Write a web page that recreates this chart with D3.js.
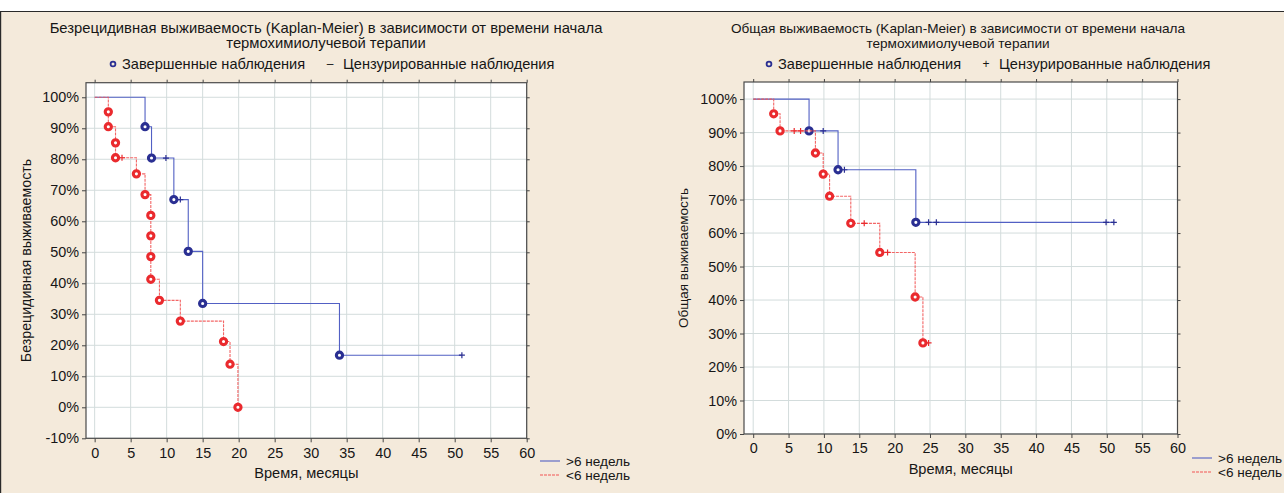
<!DOCTYPE html>
<html>
<head>
<meta charset="utf-8">
<script src="https://cdn.jsdelivr.net/npm/d3@7/dist/d3.min.js"></script>
<style>
  html, body { margin: 0; padding: 0; background: #ffffff; }
  svg { display: block; }
  text { font-family: "Liberation Sans", Arial, sans-serif; fill: #161616; }
</style>
</head>
<body>
<svg id="chart" width="1284" height="493"></svg>
<script>
// ---- Data: Kaplan-Meier step curves (time in months, survival as fraction) ----
const xTicks = [0, 5, 10, 15, 20, 25, 30, 35, 40, 45, 50, 55, 60];
const rfsTicks = [-0.1, 0, 0.1, 0.2, 0.3, 0.4, 0.5, 0.6, 0.7, 0.8, 0.9, 1.0];
const osTicks = [0, 0.1, 0.2, 0.3, 0.4, 0.5, 0.6, 0.7, 0.8, 0.9, 1.0];

const groupLabels = [">6 недель", "<6 недель"];

// Relapse-free survival, start of therapy > 6 weeks
const rfsLateTimes = [7, 7.9, 11, 13, 15, 34];
const rfsLateSurv = [0.905, 0.804, 0.67, 0.503, 0.335, 0.168];
const rfsLateCensored = [9.9, 11.9, 51];

// Relapse-free survival, start of therapy < 6 weeks
const rfsEarlyTimes = [1.9, 1.9, 2.9, 2.9, 5.8, 7, 7.8, 7.8, 7.8, 7.8, 9, 11.9, 17.9, 18.8, 19.9];
const rfsEarlySurv = [0.953, 0.905, 0.853, 0.805, 0.753, 0.686, 0.619, 0.553, 0.486, 0.413, 0.345, 0.278, 0.212, 0.139, 0.0];
const rfsEarlyCensored = [3.8];

// Overall survival, start of therapy > 6 weeks
const osLateTimes = [7.9, 12, 23];
const osLateSurv = [0.905, 0.789, 0.632];
const osLateCensored = [9.9, 12.9, 24.8, 25.9, 49.9, 51];

// Overall survival, start of therapy < 6 weeks
const osEarlyTimes = [2.9, 3.8, 8.8, 9.9, 10.8, 13.8, 17.9, 22.9, 24.0];
const osEarlySurv = [0.956, 0.905, 0.839, 0.776, 0.710, 0.629, 0.542, 0.409, 0.272];
const osEarlyCensored = [5.8, 6.7, 15.7, 19.0, 24.8];

// ---- Drawing ----
const svg = d3.select("#chart");
const BLUE_LINE = "#5260c4";
const BLUE_MARK = "#2a2f92";
const RED_LINE = "#f25555";
const RED_MARK = "#ea2a2e";
const FS = 14.6;

// panel background and frame
svg.append("rect").attr("x", 0).attr("y", 11.5).attr("width", 1284).attr("height", 482)
  .attr("fill", "#f4eadb");
svg.append("line").attr("x1", 0).attr("x2", 1284).attr("y1", 11.5).attr("y2", 11.5)
  .attr("stroke", "#2a2a2a").attr("stroke-width", 1.2);
svg.append("line").attr("x1", 0.6).attr("x2", 0.6).attr("y1", 11.5).attr("y2", 493)
  .attr("stroke", "#2a2a2a").attr("stroke-width", 1.2);

function stepCurve(times, surv, censored) {
  const pts = [[0, 1]];
  let prev = 1;
  times.forEach((t, i) => { pts.push([t, prev]); pts.push([t, surv[i]]); prev = surv[i]; });
  const end = Math.max(times[times.length - 1], ...censored);
  pts.push([end, prev]);
  return pts;
}
function survAt(times, surv, t) {
  let s = 1;
  times.forEach((tt, i) => { if (tt <= t) s = surv[i]; });
  return s;
}

function drawPanel(cfg) {
  const g = svg.append("g");
  const x = d3.scaleLinear().domain(cfg.xDomain).range([cfg.left, cfg.right]);
  const y = d3.scaleLinear().domain(cfg.yDomain).range([cfg.bottom, cfg.top]);

  // plot area
  g.append("rect").attr("x", cfg.left).attr("y", cfg.top)
    .attr("width", cfg.right - cfg.left).attr("height", cfg.bottom - cfg.top)
    .attr("fill", "#ffffff");

  // grid
  g.append("g").selectAll("line").data(xTicks).join("line")
    .attr("x1", d => x(d)).attr("x2", d => x(d)).attr("y1", cfg.top).attr("y2", cfg.bottom)
    .attr("stroke", "#d3dcdc").attr("stroke-width", 1);
  g.append("g").selectAll("line").data(cfg.yTicks).join("line")
    .attr("x1", cfg.left).attr("x2", cfg.right).attr("y1", d => y(d)).attr("y2", d => y(d))
    .attr("stroke", "#d3dcdc").attr("stroke-width", 1);

  // axes
  const fmt = d => Math.round(d * 100) + "%";
  const ax = g.append("g").attr("transform", `translate(0,${cfg.bottom})`)
    .call(d3.axisBottom(x).tickValues(xTicks).tickSize(4).tickPadding(5).tickFormat(d3.format("d")));
  const ay = g.append("g").attr("transform", `translate(${cfg.left},0)`)
    .call(d3.axisLeft(y).tickValues(cfg.yTicks).tickSize(4).tickPadding(3).tickFormat(fmt));
  const at = g.append("g").attr("transform", `translate(0,${cfg.top})`)
    .call(d3.axisTop(x).tickValues(xTicks).tickSize(3).tickFormat(""));
  const ar = g.append("g").attr("transform", `translate(${cfg.right},0)`)
    .call(d3.axisRight(y).tickValues(cfg.yTicks).tickSize(3).tickFormat(""));
  [ax, ay, at, ar].forEach(a => {
    a.select(".domain").remove();
    a.selectAll("line").attr("stroke", "#444");
    a.selectAll("text").attr("font-size", 14.4).attr("fill", "#161616")
      .attr("font-family", "'Liberation Sans', Arial, sans-serif");
  });
  g.append("rect").attr("x", cfg.left).attr("y", cfg.top)
    .attr("width", cfg.right - cfg.left).attr("height", cfg.bottom - cfg.top)
    .attr("fill", "none").attr("stroke", "#4a4a4a").attr("stroke-width", 1.2);

  // axis titles
  g.append("text").attr("x", (cfg.left + cfg.right) / 2).attr("y", cfg.xTitleY)
    .attr("text-anchor", "middle").attr("font-size", FS).text("Время, месяцы");
  g.append("text").attr("transform", `translate(${cfg.yTitleX},${(cfg.top + cfg.bottom) / 2}) rotate(-90)`)
    .attr("text-anchor", "middle").attr("font-size", cfg.yTitleSize).text(cfg.yTitle);

  // chart title
  cfg.title.forEach((line, i) => {
    g.append("text").attr("x", cfg.titleX).attr("y", 33 + i * 15)
      .attr("text-anchor", "middle").attr("font-size", cfg.titleSize).text(line);
  });

  // top legend: event / censored markers
  const ly = 64;
  g.append("circle").attr("cx", cfg.legendX).attr("cy", ly).attr("r", 2.4)
    .attr("fill", "none").attr("stroke", BLUE_MARK).attr("stroke-width", 1.8);
  g.append("text").attr("x", cfg.legendX + 9).attr("y", ly + 5).attr("font-size", FS)
    .text("Завершенные наблюдения");
  g.append("text").attr("x", cfg.legendX + cfg.censorGap).attr("y", ly + 4).attr("font-size", 12)
    .attr("fill", BLUE_LINE).attr("text-anchor", "middle").text(cfg.censorGlyph);
  g.append("text").attr("x", cfg.legendX + cfg.censorGap + 13).attr("y", ly + 5).attr("font-size", FS)
    .text("Цензурированные наблюдения");

  // curves
  const line = d3.line().x(d => x(d[0])).y(d => y(d[1]));
  cfg.series.forEach(s => {
    const pts = stepCurve(s.times, s.surv, s.censored);
    g.append("path").attr("d", line(pts)).attr("fill", "none")
      .attr("stroke", s.lineColor).attr("stroke-width", s.width)
      .attr("stroke-dasharray", s.dash).attr("opacity", s.opacity);
    // censored ticks
    g.append("g").selectAll("path").data(s.censored).join("path")
      .attr("d", t => {
        const cx = x(t), cy = y(survAt(s.times, s.surv, t));
        return `M${cx - 3},${cy}H${cx + 3}M${cx},${cy - 3}V${cy + 3}`;
      })
      .attr("stroke", s.markColor).attr("stroke-width", 1.2).attr("fill", "none");
    // events
    g.append("g").selectAll("circle").data(s.times.map((t, i) => [t, s.surv[i]])).join("circle")
      .attr("cx", d => x(d[0])).attr("cy", d => y(d[1])).attr("r", 3.1)
      .attr("fill", "#ffffff").attr("stroke", s.markColor).attr("stroke-width", 3.1);
  });

  // bottom legend: groups
  groupLabels.forEach((lab, i) => {
    const yy = cfg.groupLegendY + i * 14;
    const c = i === 0 ? BLUE_LINE : RED_LINE;
    g.append("line").attr("x1", cfg.groupLegendX).attr("x2", cfg.groupLegendX + 20)
      .attr("y1", yy).attr("y2", yy).attr("stroke", c).attr("stroke-width", 1.1)
      .attr("stroke-dasharray", i === 0 ? null : "3,1");
    g.append("text").attr("x", cfg.groupLegendX + 26).attr("y", yy + 4.5)
      .attr("font-size", 13.6).text(lab);
  });
}

const seriesStyle = (color, mark, dash, width, opacity) => ({ lineColor: color, markColor: mark, dash, width, opacity });

drawPanel({
  left: 86, right: 526.7, top: 82.7, bottom: 438.3,
  xDomain: [-1.2, 60], yDomain: [-0.1, 1.047], yTicks: rfsTicks,
  xTitleY: 478, yTitleX: 31, yTitle: "Безрецидивная выживаемость", yTitleSize: 14.2,
  title: ["Безрецидивная выживаемость (Kaplan-Meier) в зависимости от времени начала",
          "термохимиолучевой терапии"],
  titleX: 326, titleSize: 14.8, legendX: 113, censorGap: 217, censorGlyph: "–",
  groupLegendX: 540, groupLegendY: 461,
  series: [
    Object.assign({ times: rfsLateTimes, surv: rfsLateSurv, censored: rfsLateCensored },
      seriesStyle(BLUE_LINE, BLUE_MARK, null, 1.1, 1)),
    Object.assign({ times: rfsEarlyTimes, surv: rfsEarlySurv, censored: rfsEarlyCensored },
      seriesStyle(RED_LINE, RED_MARK, "3,1", 1.1, 0.9))
  ]
});

drawPanel({
  left: 744, right: 1177.5, top: 82, bottom: 434,
  xDomain: [-1.3, 60], yDomain: [0, 1.051], yTicks: osTicks,
  xTitleY: 474, yTitleX: 688, yTitle: "Общая выживаемость", yTitleSize: 13.5,
  title: ["Общая выживаемость (Kaplan-Meier) в зависимости от времени начала",
          "термохимиолучевой терапии"],
  titleX: 958, titleSize: 13.6, legendX: 769, censorGap: 217, censorGlyph: "+",
  groupLegendX: 1192, groupLegendY: 458,
  series: [
    Object.assign({ times: osLateTimes, surv: osLateSurv, censored: osLateCensored },
      seriesStyle(BLUE_LINE, BLUE_MARK, null, 1.1, 1)),
    Object.assign({ times: osEarlyTimes, surv: osEarlySurv, censored: osEarlyCensored },
      seriesStyle(RED_LINE, RED_MARK, "3,1", 1.1, 0.9))
  ]
});
</script>
</body>
</html>
